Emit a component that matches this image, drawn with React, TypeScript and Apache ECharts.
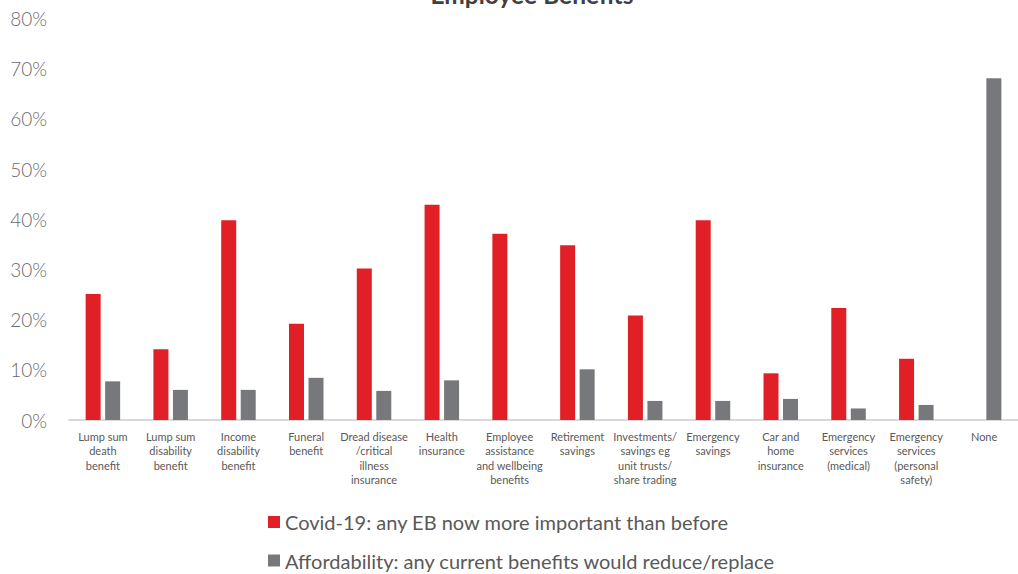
import React, { useEffect, useRef } from "react";
import * as echarts from "echarts";

const categories = [
  "Lump sum\ndeath\nbenefit",
  "Lump sum\ndisability\nbenefit",
  "Income\ndisability\nbenefit",
  "Funeral\nbenefit",
  "Dread disease\n/critical\nillness\ninsurance",
  "Health\ninsurance",
  "Employee\nassistance\nand wellbeing\nbenefits",
  "Retirement\nsavings",
  "Investments/\nsavings eg\nunit trusts/\nshare trading",
  "Emergency\nsavings",
  "Car and\nhome\ninsurance",
  "Emergency\nservices\n(medical)",
  "Emergency\nservices\n(personal\nsafety)",
  "None",
];

const covidValues = [25.1, 14.1, 39.8, 19.2, 30.2, 42.9, 37.1, 34.8, 20.8, 39.8, 9.3, 22.3, 12.2, 0];
const affordValues = [7.7, 6.0, 6.0, 8.4, 5.8, 7.9, 0, 10.1, 3.8, 3.8, 4.2, 2.3, 3.0, 68.1];

const seriesNames = [
  "Covid-19: any EB now more important than before",
  "Affordability: any current benefits would reduce/replace",
];

const FONT = "Lato, 'Open Sans', sans-serif";

export default function App() {
  const ref = useRef<HTMLDivElement>(null);
  useEffect(() => {
    document.body.style.margin = "0";
    const chart = echarts.init(ref.current!, undefined, { renderer: "svg" });
    const legendCommon = {
      orient: "vertical",
      left: 268,
      padding: 0,
      itemWidth: 12,
      itemHeight: 12,
      icon: "rect",
      textStyle: { fontFamily: FONT, fontSize: 20, color: "#595959" },
    };
    chart.setOption({
      animation: false,
      textStyle: { fontFamily: FONT },
      title: {
        text: "Employee Benefits",
        left: 527,
        textAlign: "center",
        top: -23,
        textStyle: { fontFamily: FONT, fontSize: 24.5, fontWeight: "bold", color: "#404040" },
      },
      legend: [
        { ...legendCommon, top: 512, data: [seriesNames[0]] },
        { ...legendCommon, top: 550.5, data: [seriesNames[1]] },
      ],
      grid: { left: 69, right: -11, top: 18.5, bottom: 154, containLabel: false },
      xAxis: {
        type: "category",
        data: categories,
        axisTick: { show: false },
        axisLine: { lineStyle: { color: "#d9d9d9", width: 2 } },
        axisLabel: {
          interval: 0,
          fontFamily: FONT,
          fontSize: 11,
          lineHeight: 14.5,
          color: "#595959",
          margin: 9,
        },
      },
      yAxis: {
        type: "value",
        min: 0,
        max: 80,
        interval: 10,
        splitLine: { show: false },
        axisLine: { show: false },
        axisTick: { show: false },
        axisLabel: {
          formatter: "{value}%",
          fontFamily: FONT,
          fontSize: 19,
          fontWeight: 300,
          color: "#6b6b6b",
          margin: 22,
        },
      },
      series: [
        {
          name: seriesNames[0],
          type: "bar",
          data: covidValues,
          barWidth: 15,
          barGap: "30%",
          itemStyle: { color: "#E02026" },
        },
        {
          name: seriesNames[1],
          type: "bar",
          data: affordValues,
          barWidth: 15,
          barGap: "30%",
          itemStyle: { color: "#77787B" },
        },
      ],
    });
    return () => chart.dispose();
  }, []);
  return <div ref={ref} style={{ width: 1018, height: 574 }} />;
}
